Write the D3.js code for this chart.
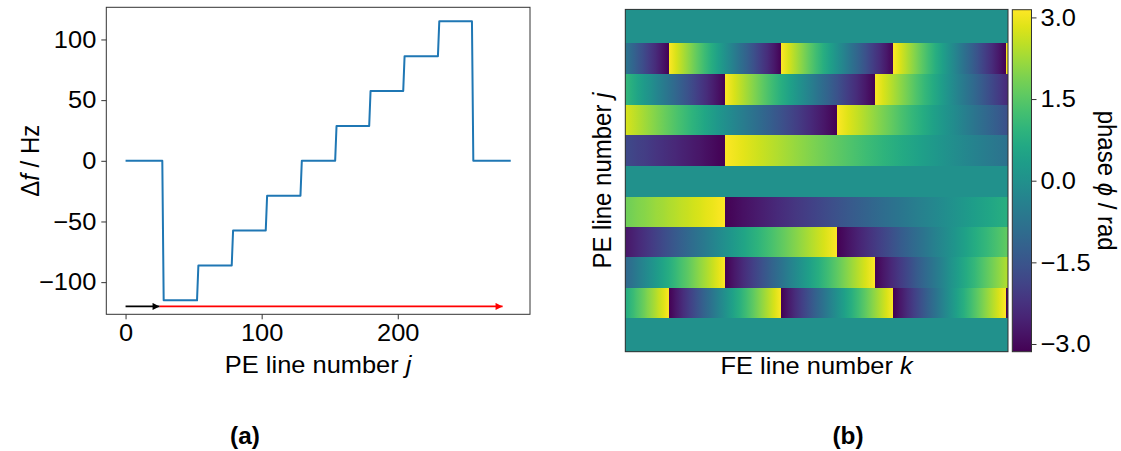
<!DOCTYPE html>
<html>
<head>
<meta charset="utf-8">
<script src="https://cdn.jsdelivr.net/npm/d3@7"></script>
<style>
  html, body { margin: 0; padding: 0; background: #fff; }
  svg { display: block; font-family: "Liberation Sans", Arial, sans-serif; }
</style>
</head>
<body>
<svg id="chart" width="1121" height="451"></svg>
<script>
// ---------------- DATA ----------------
// (a) frequency offset per PE segment
const segmentStartJ = [0, 28, 53.5, 79, 104, 129.5, 155, 180, 205, 230.5, 255.5];
const lastJ = 283;
const deltaF = [0, -115, -86.25, -57.5, -28.75, 0, 28.75, 57.5, 86.25, 115, 0];
const xTicksA = [0, 100, 200];
const yTicksA = [-100, -50, 0, 50, 100];
// arrows at bottom of (a)
const blackArrowJ = [0, 25];
const redArrowJ = [25, 277];
const arrowDf = -120;

// (b) phase per PE row (unwrapped) at first and last FE line
const phaseStart = [0, -0.69, 1.05, 2.79, -1.75, 0, 1.75, -2.79, -1.05, 0.69, 0];
const phaseEnd   = [0, -22.12, -15.02, -7.92, -7.10, 0, 7.10, 7.92, 15.02, 22.12, 0];
const cbTicks = [-3.0, -1.5, 0.0, 1.5, 3.0];

// ---------------- LAYOUT ----------------
const svg = d3.select("#chart");
const FONT = 24;
const SX = 1.06; // slight horizontal stretch of the glyphs in the reference

function hText(sel, x, y) {
  return sel.attr("transform", `translate(${x},${y}) scale(${SX},1)`);
}

// ===== Panel (a) =====
const A = {left: 106.3, right: 530, top: 7.3, bottom: 314.3};
const xA = d3.scaleLinear().domain([-14.15, 297.15]).range([A.left, A.right]);
const yA = d3.scaleLinear().domain([-126.5, 126.5]).range([A.bottom, A.top]);

const gA = svg.append("g");

// step line points
const pts = [];
segmentStartJ.forEach((s, i) => {
  const e = i + 1 < segmentStartJ.length ? segmentStartJ[i + 1] - 1 : lastJ;
  pts.push([s, deltaF[i]]);
  pts.push([e, deltaF[i]]);
});
gA.append("path")
  .datum(pts)
  .attr("fill", "none")
  .attr("stroke", "#1f77b4")
  .attr("stroke-width", 2)
  .attr("stroke-linejoin", "round")
  .attr("d", d3.line().x(d => xA(d[0])).y(d => yA(d[1])));

// arrows
const defs = svg.append("defs");
function arrowMarker(id, color) {
  defs.append("marker")
    .attr("id", id)
    .attr("viewBox", "0 0 10 10")
    .attr("refX", 10).attr("refY", 5)
    .attr("markerWidth", 10).attr("markerHeight", 7)
    .attr("markerUnits", "userSpaceOnUse")
    .attr("orient", "auto")
    .append("path").attr("d", "M0,0 L10,5 L0,10 Z").attr("fill", color);
}
arrowMarker("arrBlack", "#000");
arrowMarker("arrRed", "#ff0000");
gA.append("line")
  .attr("x1", xA(blackArrowJ[0])).attr("x2", xA(blackArrowJ[1]))
  .attr("y1", yA(arrowDf)).attr("y2", yA(arrowDf))
  .attr("stroke", "#000").attr("stroke-width", 1.6)
  .attr("marker-end", "url(#arrBlack)");
gA.append("line")
  .attr("x1", xA(redArrowJ[0])).attr("x2", xA(redArrowJ[1]))
  .attr("y1", yA(arrowDf)).attr("y2", yA(arrowDf))
  .attr("stroke", "#ff0000").attr("stroke-width", 1.6)
  .attr("marker-end", "url(#arrRed)");

// frame
gA.append("rect")
  .attr("x", A.left).attr("y", A.top)
  .attr("width", A.right - A.left).attr("height", A.bottom - A.top)
  .attr("fill", "none").attr("stroke", "#333").attr("stroke-width", 1);

// axes
const axXA = gA.append("g").attr("transform", `translate(0,${A.bottom})`)
  .call(d3.axisBottom(xA).tickValues(xTicksA).tickSize(5).tickPadding(5).tickFormat(d3.format("d")));
const axYA = gA.append("g").attr("transform", `translate(${A.left},0)`)
  .call(d3.axisLeft(yA).tickValues(yTicksA).tickSize(5).tickPadding(5)
    .tickFormat(d => d < 0 ? "\u2212" + Math.abs(d) : String(d)));
function styleTicks(ax) {
  ax.select(".domain").remove();
  ax.selectAll(".tick line").attr("stroke", "#333");
  ax.selectAll(".tick text").attr("font-size", FONT).attr("fill", "#000")
    .attr("font-family", "Liberation Sans, Arial, sans-serif")
    .each(function () {
      const t = d3.select(this);
      const x = +t.attr("x") || 0;
      const y = +t.attr("y") || 0;
      t.attr("x", null).attr("y", null)
        .attr("transform", `translate(${x},${y}) scale(${SX},1)`);
    });
}
styleTicks(axXA);
styleTicks(axYA);

// axis labels
const xlabA = hText(gA.append("text"), (A.left + A.right) / 2, 373)
  .attr("text-anchor", "middle").attr("font-size", FONT);
xlabA.append("tspan").text("PE line number ");
xlabA.append("tspan").attr("font-style", "italic").text("j");

const ylabA = gA.append("text")
  .attr("transform", `translate(39,${(A.top + A.bottom) / 2}) rotate(-90) scale(1,${SX})`)
  .attr("text-anchor", "middle").attr("font-size", FONT);
ylabA.append("tspan").text("\u0394");
ylabA.append("tspan").attr("font-style", "italic").text("f");
ylabA.append("tspan").text(" / Hz");

// ===== Panel (b) =====
const B = {left: 625.3, right: 1008, top: 9.4, bottom: 351.7};
const xB = d3.scaleLinear().domain([0, 1]).range([B.left, B.right]);
const yB = d3.scaleLinear().domain([0, lastJ]).range([B.top, B.bottom]);
const color = d3.scaleSequential(d3.interpolateViridis).domain([-Math.PI, Math.PI]);
const wrap = p => ((p + Math.PI) % (2 * Math.PI) + 2 * Math.PI) % (2 * Math.PI) - Math.PI;

const gB = svg.append("g");
let gradId = 0;
segmentStartJ.forEach((s, i) => {
  const j0 = s;
  const j1 = i + 1 < segmentStartJ.length ? segmentStartJ[i + 1] : lastJ;
  const p0 = phaseStart[i], p1 = phaseEnd[i];
  const y0 = yB(j0), y1 = yB(j1);
  // break points where the phase wraps at odd multiples of pi
  const breaks = [0];
  if (p1 !== p0) {
    const lo = Math.min(p0, p1), hi = Math.max(p0, p1);
    const nStart = Math.ceil((lo - Math.PI) / (2 * Math.PI));
    const nEnd = Math.floor((hi - Math.PI) / (2 * Math.PI));
    const ts = [];
    for (let n = nStart; n <= nEnd; n++) {
      const pv = Math.PI + 2 * Math.PI * n;
      ts.push((pv - p0) / (p1 - p0));
    }
    ts.sort((a, b) => a - b).forEach(t => { if (t > 0 && t < 1) breaks.push(t); });
  }
  breaks.push(1);
  for (let b = 0; b < breaks.length - 1; b++) {
    const ta = breaks[b], tb = breaks[b + 1];
    const pa = p0 + (p1 - p0) * ta, pb = p0 + (p1 - p0) * tb;
    const mid = wrap((pa + pb) / 2);
    const shift = mid - (pa + pb) / 2;
    const wa = pa + shift, wb = pb + shift;
    const id = "g" + (gradId++);
    const grad = defs.append("linearGradient").attr("id", id)
      .attr("gradientUnits", "userSpaceOnUse")
      .attr("x1", xB(ta)).attr("x2", xB(tb)).attr("y1", 0).attr("y2", 0);
    const N = 16;
    for (let k = 0; k <= N; k++) {
      grad.append("stop").attr("offset", k / N)
        .attr("stop-color", color(wa + (wb - wa) * k / N));
    }
    gB.append("rect")
      .attr("x", xB(ta)).attr("y", y0)
      .attr("width", xB(tb) - xB(ta) + 0.3).attr("height", y1 - y0 + 0.3)
      .attr("fill", p0 === p1 ? color(p0) : `url(#${id})`)
      .attr("shape-rendering", "crispEdges");
  }
});
gB.append("rect")
  .attr("x", B.left).attr("y", B.top)
  .attr("width", B.right - B.left).attr("height", B.bottom - B.top)
  .attr("fill", "none").attr("stroke", "#333").attr("stroke-width", 1);

const xlabB = hText(gB.append("text"), (B.left + B.right) / 2, 374)
  .attr("text-anchor", "middle").attr("font-size", FONT);
xlabB.append("tspan").text("FE line number ");
xlabB.append("tspan").attr("font-style", "italic").text("k");

const ylabB = gB.append("text")
  .attr("transform", `translate(611,${(B.top + B.bottom) / 2}) rotate(-90) scale(1,${SX})`)
  .attr("text-anchor", "middle").attr("font-size", FONT);
ylabB.append("tspan").text("PE line number ");
ylabB.append("tspan").attr("font-style", "italic").text("j");

// ===== Colorbar =====
const C = {left: 1012.3, right: 1031.5, top: 9.7, bottom: 351.7};
const yC = d3.scaleLinear().domain([-Math.PI, Math.PI]).range([C.bottom, C.top]);
const cbGrad = defs.append("linearGradient").attr("id", "cbGrad")
  .attr("x1", 0).attr("x2", 0).attr("y1", 1).attr("y2", 0);
d3.range(0, 1.0001, 0.05).forEach(t => {
  cbGrad.append("stop").attr("offset", t).attr("stop-color", d3.interpolateViridis(t));
});
const gC = svg.append("g");
gC.append("rect")
  .attr("x", C.left).attr("y", C.top)
  .attr("width", C.right - C.left).attr("height", C.bottom - C.top)
  .attr("fill", "url(#cbGrad)").attr("stroke", "#333").attr("stroke-width", 1);
const axC = gC.append("g").attr("transform", `translate(${C.right},0)`)
  .call(d3.axisRight(yC).tickValues(cbTicks).tickSize(5).tickPadding(4)
    .tickFormat(d => (d < 0 ? "\u2212" : "") + Math.abs(d).toFixed(1)));
styleTicks(axC);

const cbLab = gC.append("text")
  .attr("transform", `translate(1098,${(C.top + C.bottom) / 2}) rotate(90) scale(1,${SX})`)
  .attr("text-anchor", "middle").attr("font-size", FONT);
cbLab.append("tspan").text("phase ");
cbLab.append("tspan").attr("font-style", "italic").text("\u03D5");
cbLab.append("tspan").text(" / rad");

// ===== panel captions =====
hText(svg.append("text"), 245, 444).attr("text-anchor", "middle")
  .attr("font-size", 23).attr("font-weight", "bold").text("(a)");
hText(svg.append("text"), 848, 444).attr("text-anchor", "middle")
  .attr("font-size", 23).attr("font-weight", "bold").text("(b)");
</script>
</body>
</html>
